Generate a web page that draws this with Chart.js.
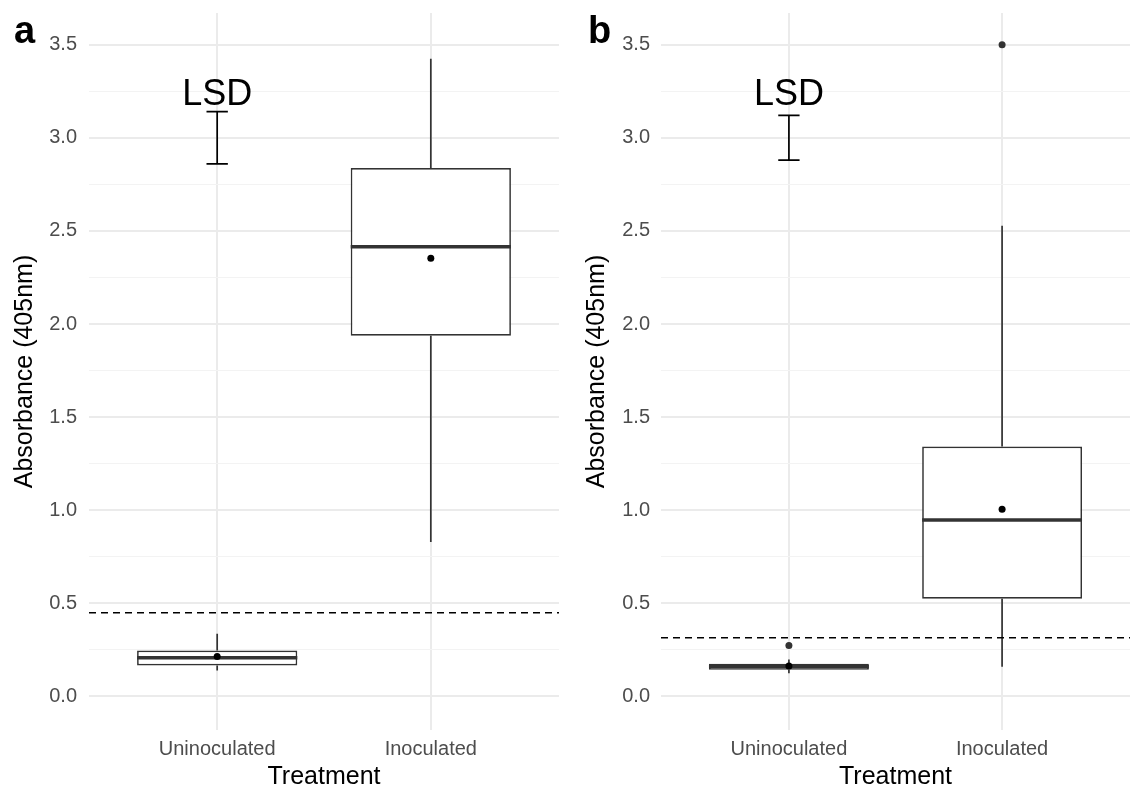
<!DOCTYPE html>
<html>
<head>
<meta charset="utf-8">
<script src="https://cdn.jsdelivr.net/npm/chart.js@4.4.1/dist/chart.umd.min.js"></script>
<style>
  body { margin: 0; background: #fff; }
  .panel { position: absolute; top: 0; width: 567px; height: 792px; }
</style>
</head>
<body>
<div class="panel" style="left:0"><canvas id="chartA" width="567" height="792"></canvas></div>
<div class="panel" style="left:567px"><canvas id="chartB" width="567" height="792"></canvas></div>
<script>
const treatments = ["Uninoculated", "Inoculated"];
const yTickValues = [0, 0.5, 1, 1.5, 2, 2.5, 3, 3.5];
const yMinorValues = [0.25, 0.75, 1.25, 1.75, 2.25, 2.75, 3.25];

// panel a: box stats per treatment
const lowA = [0.14, 0.83];
const q1A = [0.167, 1.937];
const medianA = [0.208, 2.415];
const q3A = [0.247, 2.838];
const highA = [0.337, 3.425];
const meanA = [0.215, 2.353];
const outliersA = [[], []];
const cutoffA = 0.45;
const lsdA = [2.86, 3.14];

// panel b
const lowB = [0.125, 0.16];
const q1B = [0.143, 0.525];
const medianB = [0.16, 0.948];
const q3B = [0.176, 1.342];
const highB = [0.199, 2.527];
const meanB = [0.163, 1.005];
const outliersB = [[0.274], [3.5]];
const cutoffB = 0.316;
const lsdB = [2.88, 3.12];

const lsdLabelY = 3.23;

Chart.defaults.font.family = "'Liberation Sans', Arial, sans-serif";

const boxParts = {
  id: "boxParts",
  afterDatasetDraw(chart, args, opts) {
    if (args.index !== 0) return;
    const { ctx, scales: { y } } = chart;
    const bars = chart.getDatasetMeta(0).data;
    ctx.save();
    ctx.strokeStyle = "#333333";
    bars.forEach((bar, i) => {
      ctx.lineWidth = 1.7;
      ctx.beginPath();
      ctx.moveTo(bar.x, y.getPixelForValue(opts.high[i]));
      ctx.lineTo(bar.x, y.getPixelForValue(opts.q3[i]));
      ctx.moveTo(bar.x, y.getPixelForValue(opts.q1[i]));
      ctx.lineTo(bar.x, y.getPixelForValue(opts.low[i]));
      ctx.stroke();
      const ym = y.getPixelForValue(opts.median[i]);
      ctx.lineWidth = 3.5;
      ctx.beginPath();
      ctx.moveTo(bar.x - bar.width / 2, ym);
      ctx.lineTo(bar.x + bar.width / 2, ym);
      ctx.stroke();
    });
    ctx.restore();
  },
  afterDatasetsDraw(chart, args, opts) {
    const { ctx, chartArea, scales: { x, y } } = chart;
    ctx.save();
    // threshold line
    ctx.strokeStyle = "#000";
    ctx.lineWidth = 1.5;
    ctx.setLineDash([7, 5]);
    const yc = y.getPixelForValue(opts.cutoff);
    ctx.beginPath();
    ctx.moveTo(chartArea.left, yc);
    ctx.lineTo(chartArea.right, yc);
    ctx.stroke();
    ctx.setLineDash([]);
    // LSD bar over the first treatment
    const cx = x.getPixelForValue(1);
    const capHalf = x.getPixelForValue(1.05) - cx;
    const y0 = y.getPixelForValue(opts.lsd[0]);
    const y1 = y.getPixelForValue(opts.lsd[1]);
    ctx.lineWidth = 1.7;
    ctx.beginPath();
    ctx.moveTo(cx, y0); ctx.lineTo(cx, y1);
    ctx.moveTo(cx - capHalf, y0); ctx.lineTo(cx + capHalf, y0);
    ctx.moveTo(cx - capHalf, y1); ctx.lineTo(cx + capHalf, y1);
    ctx.stroke();
    ctx.fillStyle = "#000";
    ctx.font = "36px 'Liberation Sans', Arial, sans-serif";
    ctx.textAlign = "center";
    ctx.textBaseline = "middle";
    ctx.fillText("LSD", cx, y.getPixelForValue(lsdLabelY));
    ctx.restore();
  },
  afterDraw(chart, args, opts) {
    const { ctx } = chart;
    ctx.save();
    ctx.fillStyle = "#000";
    ctx.font = "bold 38px 'Liberation Sans', Arial, sans-serif";
    ctx.textBaseline = "alphabetic";
    ctx.fillText(opts.letter, opts.letterX, 43);
    ctx.restore();
  }
};

function makePanel(id, s) {
  const points = (vals) => vals.map((v, i) => ({ x: i + 1, y: v }));
  const outlierPoints = s.outliers.flatMap((vals, i) => vals.map((v) => ({ x: i + 1, y: v })));
  return new Chart(document.getElementById(id), {
    type: "bar",
    data: {
      datasets: [
        {
          data: s.q1.map((q, i) => ({ x: i + 1, y: [q, s.q3[i]] })),
          backgroundColor: "#ffffff",
          borderColor: "#333333",
          borderWidth: 1.7,
          borderSkipped: false,
          barPercentage: 0.75,
          categoryPercentage: 1,
          order: 2,
        },
        {
          type: "scatter",
          data: outlierPoints,
          pointRadius: 3.5,
          pointBackgroundColor: "#333333",
          pointBorderWidth: 0,
          order: 1,
        },
        {
          type: "scatter",
          data: points(s.mean),
          pointRadius: 3.5,
          pointBackgroundColor: "#000000",
          pointBorderWidth: 0,
          order: 0,
        },
      ],
    },
    options: {
      responsive: false,
      animation: false,
      devicePixelRatio: 1,
      layout: { padding: { top: 13, right: s.rightPad, left: 0, bottom: 0 } },
      plugins: {
        legend: { display: false },
        tooltip: { enabled: false },
        boxParts: {
          low: s.low, q1: s.q1, median: s.median, q3: s.q3, high: s.high,
          cutoff: s.cutoff, lsd: s.lsd, letter: s.letter, letterX: s.letterX,
        },
      },
      scales: {
        x: {
          type: "linear",
          min: 0.4,
          max: 2.6,
          offset: false,
          afterBuildTicks: (scale) => {
            scale.ticks = treatments.map((t, i) => ({ value: i + 1 }));
          },
          afterFit: (scale) => {
            scale.height = 62;
            scale.paddingLeft = 0;
            scale.paddingRight = 0;
          },
          border: { display: false },
          grid: { color: "#ebebeb", lineWidth: 2, drawTicks: false, offset: false },
          ticks: {
            autoSkip: false,
            maxRotation: 0,
            padding: 7,
            color: "#4d4d4d",
            font: { size: 20 },
            callback: (v) => treatments[v - 1],
          },
          title: {
            display: true,
            text: "Treatment",
            color: "#000",
            font: { size: 25 },
            padding: { top: 0, bottom: 0 },
          },
        },
        y: {
          min: -0.18,
          max: 3.67,
          afterBuildTicks: (scale) => {
            scale.ticks = yTickValues.concat(yMinorValues).sort((a, b) => a - b).map((v) => ({ value: v }));
          },
          afterFit: (scale) => {
            scale.width = s.axisWidth;
            scale.paddingTop = 0;
            scale.paddingBottom = 0;
          },
          border: { display: false },
          grid: {
            drawTicks: false,
            color: (c) => (yTickValues.includes(c.tick.value) ? "#ebebeb" : "#f3f3f3"),
            lineWidth: (c) => (yTickValues.includes(c.tick.value) ? 2 : 1),
          },
          ticks: {
            autoSkip: false,
            padding: s.tickPad,
            color: "#4d4d4d",
            font: { size: 20 },
            callback: (v) => (yTickValues.includes(v) ? v.toFixed(1) : ""),
          },
          title: {
            display: true,
            text: "Absorbance (405nm)",
            color: "#000",
            font: { size: 25 },
            padding: { top: s.titlePad, bottom: 0 },
          },
        },
      },
    },
    plugins: [boxParts],
  });
}

makePanel("chartA", {
  low: lowA, q1: q1A, median: medianA, q3: q3A, high: highA, mean: meanA,
  outliers: outliersA, cutoff: cutoffA, lsd: lsdA,
  letter: "a", letterX: 14, axisWidth: 89, rightPad: 8, tickPad: 12, titlePad: 10,
});

makePanel("chartB", {
  low: lowB, q1: q1B, median: medianB, q3: q3B, high: highB, mean: meanB,
  outliers: outliersB, cutoff: cutoffB, lsd: lsdB,
  letter: "b", letterX: 21, axisWidth: 94, rightPad: 3, tickPad: 11, titlePad: 15,
});
</script>
</body>
</html>
